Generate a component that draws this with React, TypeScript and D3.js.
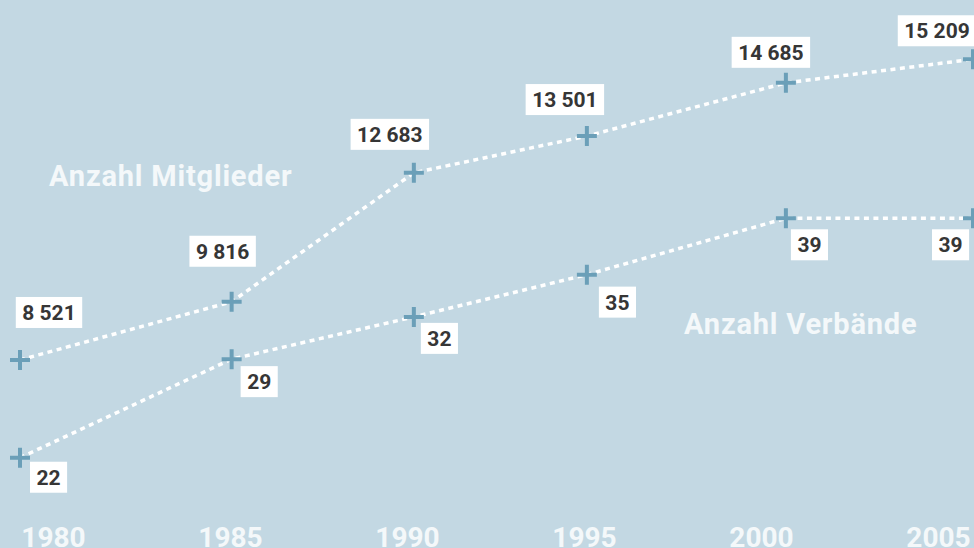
import React, { useEffect, useRef } from 'react';
import * as d3 from 'd3';

// survey dates (Stichtage) for each point
const dates = ['1980-01-01', '1985-07-21', '1990-05-02', '1994-11-15', '2000-02-04', '2005-01-01'];
const mitglieder = [8521, 9816, 12683, 13501, 14685, 15209];
const verbaende = [22, 29, 32, 35, 39, 39];
const tickYears = ['1980', '1985', '1990', '1995', '2000', '2005'];

// label box nudges relative to the marker [dx of box centre, dy of box top]
const mitgliederNudge = [[29, -63], [-9, -66], [-24, -54], [-22, -52], [-15, -46], [-36, -44]];
// [dx of box left, dy of box top]
const verbaendeNudge = [[10, 4], [9, 7], [7, 6], [12, 12], [5, 11], [-41, 11]];

const W = 974;
const H = 548;
const BG = '#c3d8e3';
const MARK = '#6b9fb8';
const FONT = 'Roboto, "Noto Sans", sans-serif';

const fmt = d3.formatLocale({ decimal: ',', thousands: ' ', grouping: [3], currency: ['', ''] }).format(',d');

function App() {
  const node = useRef<SVGSVGElement | null>(null);

  useEffect(() => {
    const svg = d3.select(node.current);
    svg.selectAll('*').remove();

    const parse = d3.timeParse('%Y-%m-%d');
    const dd = dates.map(d => parse(d) as Date);

    const x = d3.scaleTime()
      .domain([parse('1980-01-01') as Date, parse('2005-01-01') as Date])
      .range([20, 973]);
    const yM = d3.scaleLinear().domain([8000, 16000]).range([383.4, 23.7]);
    const yV = d3.scaleLinear().domain([20, 40]).range([485.9, 204.2]);
    const xTick = d3.scalePoint().domain(tickYears).range([53.5, 938.5]);

    svg.append('rect').attr('width', W).attr('height', H).attr('fill', BG);

    // axis labels
    svg.append('g').selectAll('text')
      .data(tickYears)
      .enter().append('text')
      .attr('x', d => xTick(d) as number)
      .attr('y', 547)
      .attr('text-anchor', 'middle')
      .attr('font-family', FONT)
      .attr('font-weight', 700)
      .attr('font-size', 28)
      .attr('fill', '#f4f8fa')
      .text(d => d);

    // series names
    svg.append('text')
      .attr('x', 49).attr('y', 186)
      .attr('font-family', FONT).attr('font-weight', 700).attr('font-size', 29)
      .attr('letter-spacing', 0.8)
      .attr('fill', '#f4f8fa')
      .text('Anzahl Mitglieder');
    svg.append('text')
      .attr('x', 684).attr('y', 334)
      .attr('font-family', FONT).attr('font-weight', 700).attr('font-size', 29)
      .attr('letter-spacing', 0.8)
      .attr('fill', '#f4f8fa')
      .text('Anzahl Verbände');

    const series = [
      { values: mitglieder, y: yM },
      { values: verbaende, y: yV },
    ];

    series.forEach(s => {
      const pts: [number, number][] = s.values.map((v, i) => [x(dd[i]), s.y(v)]);
      const line = d3.line();
      svg.append('path')
        .attr('d', line(pts))
        .attr('fill', 'none')
        .attr('stroke', '#ffffff')
        .attr('stroke-width', 3.5)
        .attr('stroke-dasharray', '5 4.5');

      svg.append('g').selectAll('path')
        .data(pts)
        .enter().append('path')
        .attr('d', d => `M${d[0] - 10},${d[1]}H${d[0] + 10}M${d[0]},${d[1] - 10}V${d[1] + 10}`)
        .attr('stroke', MARK)
        .attr('stroke-width', 4)
        .attr('fill', 'none');
    });

    // value labels
    const addLabel = (px: number, py: number, txt: string, anchor: 'centre' | 'left', nd: number[]) => {
      const g = svg.append('g');
      const rect = g.append('rect').attr('fill', '#ffffff');
      const t = g.append('text')
        .attr('font-family', FONT).attr('font-weight', 700).attr('font-size', 21)
        .attr('fill', '#363636')
        .text(txt);
      const tw = (t.node() as SVGTextElement).getComputedTextLength();
      const bw = tw + 13;
      const bh = 31;
      const left = anchor === 'centre' ? px + nd[0] - bw / 2 : px + nd[0];
      const top = py + nd[1];
      rect.attr('x', left).attr('y', top).attr('width', bw).attr('height', bh);
      t.attr('x', left + 6.5).attr('y', top + 23);
    };

    mitglieder.forEach((v, i) => addLabel(x(dd[i]), yM(v), fmt(v), 'centre', mitgliederNudge[i]));
    verbaende.forEach((v, i) => addLabel(x(dd[i]), yV(v), fmt(v), 'left', verbaendeNudge[i]));
  }, []);

  return (
    <svg ref={node} width={W} height={H} style={{ position: 'fixed', left: 0, top: 0, display: 'block' }} />
  );
}

export default App;
